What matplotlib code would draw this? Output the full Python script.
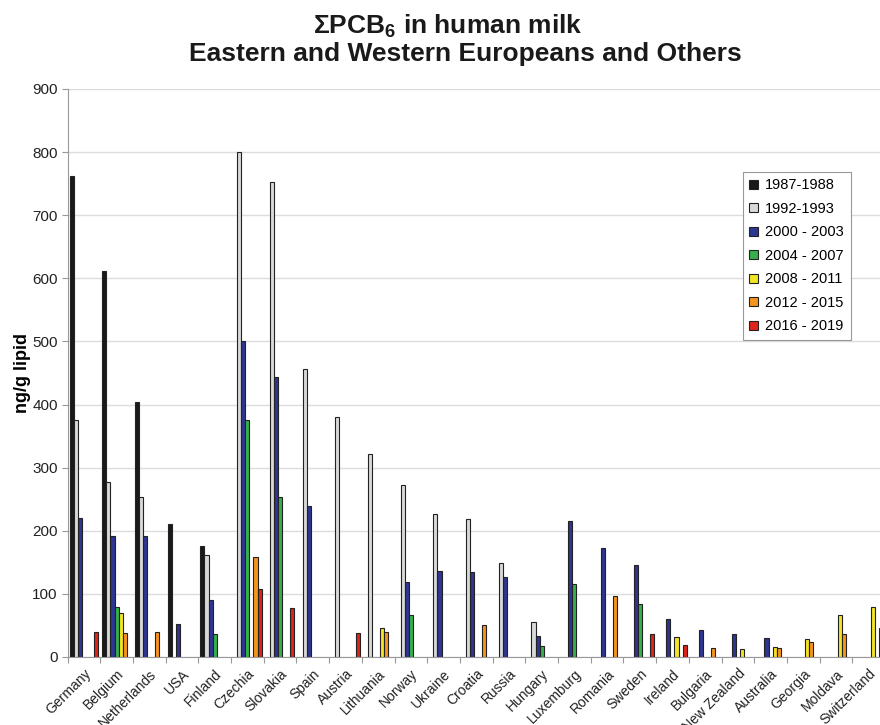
import matplotlib
matplotlib.use("Agg")
import matplotlib.pyplot as plt
import numpy as np

plt.rcParams['font.family'] = ['Liberation Sans', 'DejaVu Sans']
plt.rcParams['mathtext.fontset'] = 'custom'
plt.rcParams['mathtext.rm'] = 'Liberation Sans:bold'
plt.rcParams['mathtext.bf'] = 'Liberation Sans:bold'
plt.rcParams['mathtext.it'] = 'Liberation Sans:bold'

countries = ['Germany', 'Belgium', 'Netherlands', 'USA', 'Finland', 'Czechia',
             'Slovakia', 'Spain', 'Austria', 'Lithuania', 'Norway', 'Ukraine',
             'Croatia', 'Russia', 'Hungary', 'Luxemburg', 'Romania', 'Sweden',
             'Ireland', 'Bulgaria', 'New Zealand', 'Australia', 'Georgia',
             'Moldava', 'Switzerland']

N = None
# one value per country, None = no data
p1987 = [762, 612, 404, 211, 176, N, N, N, N, N, N, N, N, N, N, N, N, N, N, N, N, N, N, N, N]
p1992 = [375, 277, 253, N, 162, 800, 752, 456, 380, 321, 272, 227, 219, 149, 56,
         N, N, N, N, N, N, N, N, N, N]
p2000 = [220, 191, 191, 53, 91, 501, 443, 240, N, N, 119, 136, 135, 126, 33,
         216, 173, 146, 60, 42, 37, 30, N, N, N]
p2004 = [N, 80, N, N, 36, 376, 254, N, N, N, 66, N, N, N, 18,
         115, N, 84, N, N, N, N, N, N, N]
p2008 = [N, 70, N, N, N, N, N, N, N, 46, N, N, N, N, N,
         N, N, N, 32, N, 12, 16, 29, 67, 79]
p2012 = [N, 38, 40, N, N, 158, N, N, N, 40, N, N, 50, N, N,
         N, 97, N, N, 14, N, 14, 24, 36, N]
p2016 = [39, N, N, N, N, 108, 77, N, 38, N, N, N, N, N, N,
         N, N, 37, 19, N, N, N, N, N, 46]

series = [p1987, p1992, p2000, p2004, p2008, p2012, p2016]
labels = ['1987-1988', '1992-1993', '2000 - 2003', '2004 - 2007',
          '2008 - 2011', '2012 - 2015', '2016 - 2019']
colors = ['#1a1a1a', '#d9d9d9', '#2e3592', '#35b04a', '#f4e426', '#f7941d', '#e2231a']

fig = plt.figure(figsize=(8.8, 7.25), dpi=100)
ax = fig.add_axes([67.5 / 880, 68 / 725, 817.5 / 880, 568 / 725])

x = np.arange(len(countries))
w = 0.125
for k, (vals, lab, col) in enumerate(zip(series, labels, colors)):
    xs = [x[i] + (k - 3) * w for i, v in enumerate(vals) if v is not None]
    hs = [v for v in vals if v is not None]
    ax.bar(xs, hs, width=w, color=col, edgecolor='#222222', linewidth=0.8,
           label=lab, zorder=3)

ax.set_xlim(-0.5, len(countries) - 0.5)
ax.set_ylim(0, 900)
ax.set_yticks(np.arange(0, 901, 100))
ax.yaxis.grid(True, color='#dcdcdc', linewidth=1.0, zorder=0)

# tick marks between countries, labels at the centres
ax.set_xticks(np.arange(-0.5, len(countries), 1.0))
ax.set_xticklabels([])
ax.set_xticks(x, minor=True)
ax.set_xticklabels(countries, minor=True, rotation=45, ha='right',
                   rotation_mode='anchor', fontsize=10, color='#222222')
ax.tick_params(axis='x', which='minor', length=0, pad=7)
ax.tick_params(axis='x', which='major', length=4, color='#999999')
ax.tick_params(axis='y', length=4, color='#999999', labelsize=11,
               labelcolor='#222222', pad=3)

for s in ['top', 'right']:
    ax.spines[s].set_visible(False)
for s in ['left', 'bottom']:
    ax.spines[s].set_color('#999999')
    ax.spines[s].set_zorder(4)

ax.set_ylabel('ng/g lipid', fontsize=13, fontweight='bold', labelpad=1)

leg = ax.legend(loc='upper right', bbox_to_anchor=(0.958, 0.854), fontsize=10.5,
                frameon=True, fancybox=False, framealpha=1, edgecolor='#999999',
                handlelength=0.6, handleheight=0.6, handletextpad=0.5,
                labelspacing=0.65, borderpad=0.45, borderaxespad=0)
leg.get_frame().set_linewidth(0.8)

fig.text(448 / 880, 1 - 33.5 / 725, r'ΣPCB$_6$ in human milk', ha='center',
         va='baseline', fontsize=19, fontweight='bold', color='#1a1a1a')
fig.text(465.5 / 880, 1 - 61 / 725, 'Eastern and Western Europeans and Others',
         ha='center', va='baseline', fontsize=19, fontweight='bold', color='#1a1a1a')

fig.savefig('out.png', dpi=100)
